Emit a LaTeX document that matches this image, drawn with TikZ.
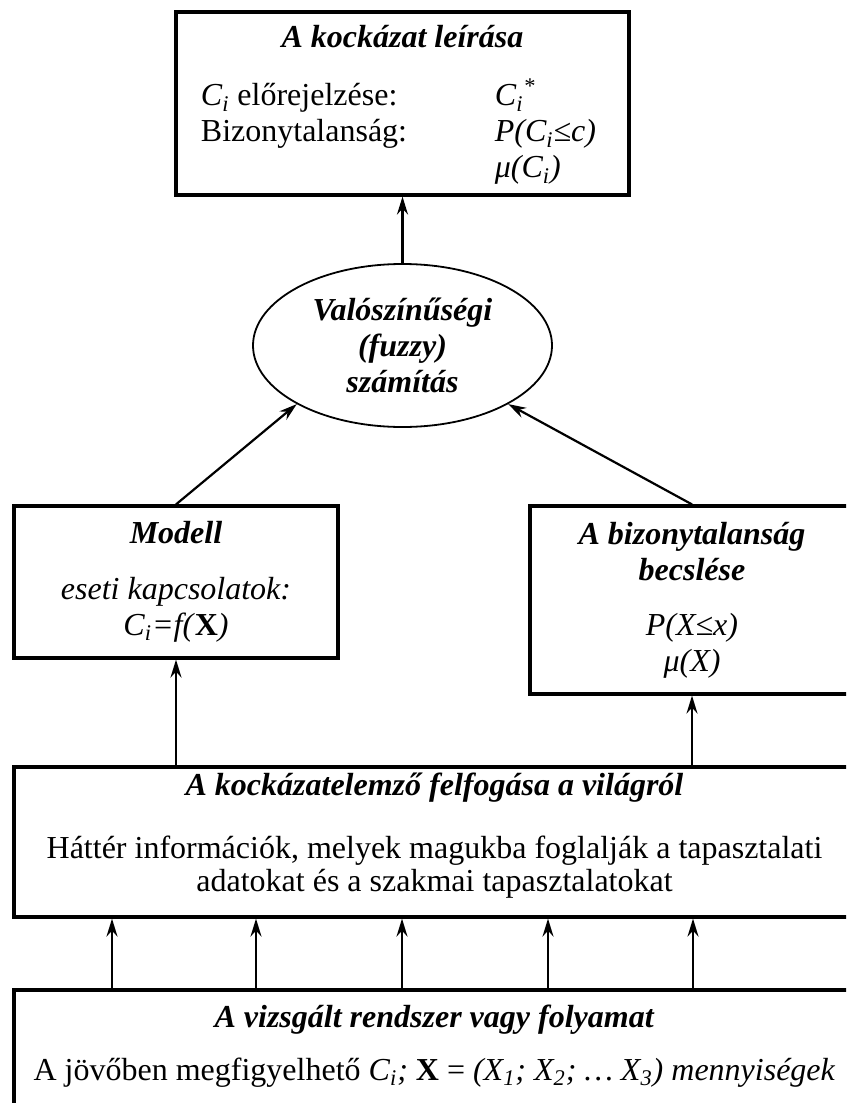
\documentclass[tikz,border=0pt]{standalone}
\usepackage{fontspec}
\setmainfont{Liberation Serif}
\usetikzlibrary{shapes.geometric,arrows.meta}

\tikzset{
  frame/.style={draw, rectangle, line width=1.6pt, align=center, inner sep=0pt},
  calcbox/.style={draw, ellipse, line width=0.9pt, align=center, inner sep=0pt},
  link/.style={line width=1.1pt, -{Stealth[length=9pt,width=5.5pt,inset=3pt]}},
}
\newcommand{\ttl}[1]{\textbf{\textit{#1}}}

\begin{document}
\begin{tikzpicture}[x=0.5pt,y=-0.5pt,font=\fontsize{16}{18}\selectfont]
\useasboundingbox (0,0) rectangle (846,1103);
\clip (0,0) rectangle (846,1103);

\node[frame, minimum width=226.5pt, minimum height=91.5pt] (risk) at (402.5,103.5) {%
  \rule{0pt}{14.5pt}\ttl{A kockázat leírása}\\[14.5pt]
  \begin{tabular}{@{}p{147pt}@{}l@{\hspace{4pt}}}
    \textit{C\textsubscript{i}} előrejelzése: & \textit{C\textsubscript{i}\textsuperscript{*}}\\
    Bizonytalanság: & \textit{P(C\textsubscript{i}≤c)}\\
     & \textit{μ(C\textsubscript{i})}
  \end{tabular}};
\node[calcbox, minimum width=149.5pt, minimum height=81.5pt] (calc) at (402.5,345.5)
  {\ttl{Valószínűségi}\\\ttl{(fuzzy)}\\\ttl{számítás}};
\node[frame, minimum width=162pt, minimum height=76pt] (model) at (176,582) {%
  \ttl{Modell}\\[10pt]
  \textit{eseti kapcsolatok:}\\[0pt]
  \textit{C\textsubscript{i}=f(}\textbf{X}\textit{)}};
\node[frame, minimum width=162pt, minimum height=94pt] (estim) at (692,600) {%
  \ttl{A bizonytalanság}\\\ttl{becslése}\\[9.5pt]
  \textit{P(X≤x)}\\\textit{μ(X)}};
\node[frame, minimum width=420.5pt, minimum height=75pt] (world) at (434.5,842) {%
  \ttl{A kockázatelemző felfogása a világról}\\[13.5pt]
  Háttér információk, melyek magukba foglalják a tapasztalati\\[-1.5pt]
  adatokat és a szakmai tapasztalatokat\rule[-10pt]{0pt}{1pt}};
\node[frame, minimum width=420.5pt, minimum height=65pt] (system) at (434.5,1055) {%
  \ttl{A vizsgált rendszer vagy folyamat}\\[8.5pt]
  A jövőben megfigyelhető \textit{C\textsubscript{i};} \textbf{X} =
  \textit{(X\textsubscript{1}; X\textsubscript{2}; \dots\ X\textsubscript{3}) mennyiségek}\rule[-12pt]{0pt}{1pt}};

\draw[link] (calc) -- (risk);
\draw[link] (model.north) -- (calc.209);
\draw[link] (estim.north) -- (calc.331);
\draw[link] (model.south |- world.north) -- (model.south);
\draw[link] (estim.south |- world.north) -- (estim.south);
\foreach \x in {112,256,402,548,693}
  \draw[link] (\x,0 |- system.north) -- (\x,0 |- world.south);
\end{tikzpicture}
\end{document}
